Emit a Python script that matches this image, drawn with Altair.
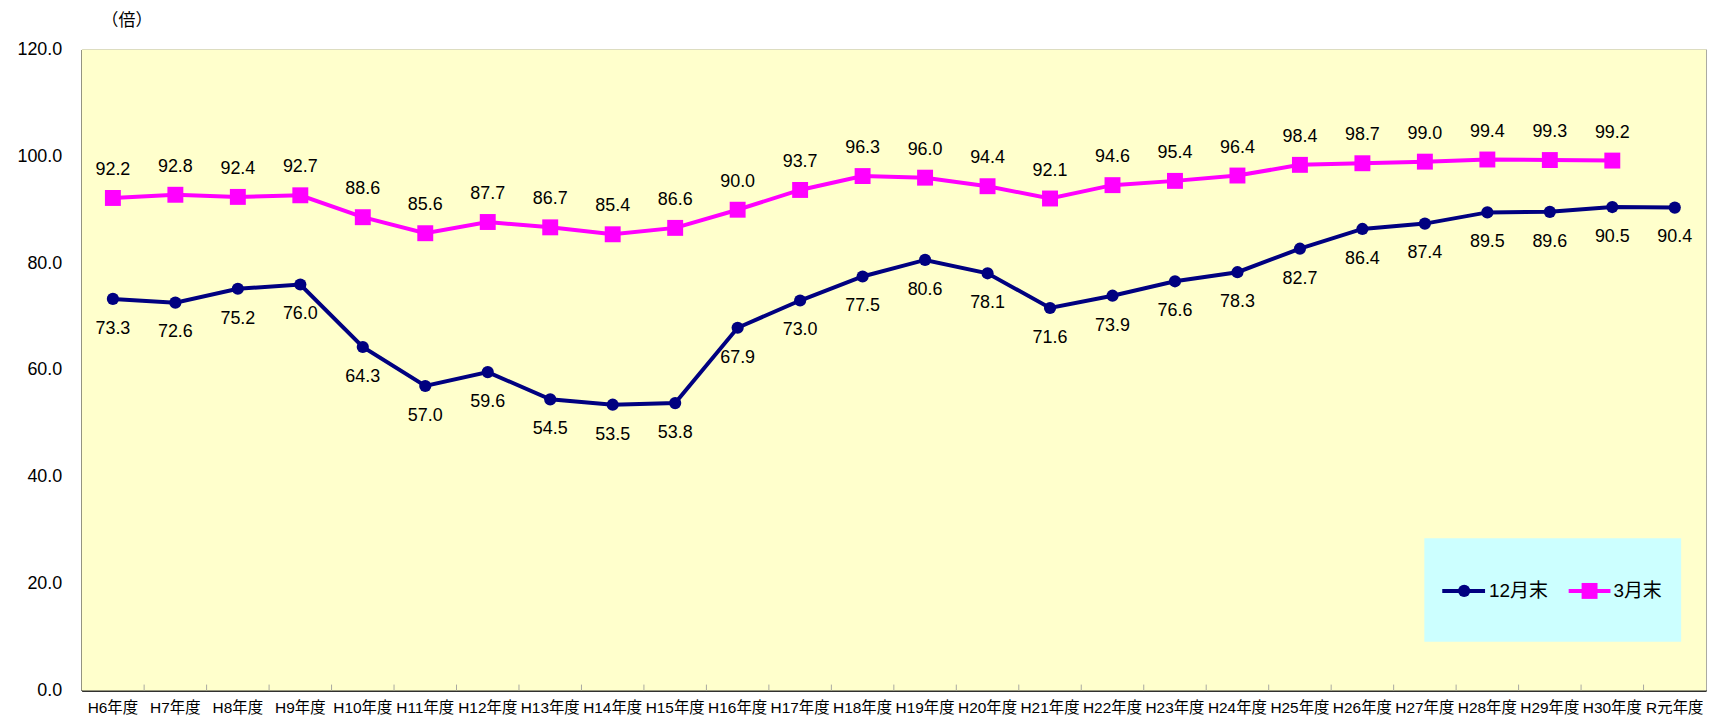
import altair as alt
import pandas as pd

categories = ["H6年度", "H7年度", "H8年度", "H9年度", "H10年度", "H11年度", "H12年度",
              "H13年度", "H14年度", "H15年度", "H16年度", "H17年度", "H18年度", "H19年度",
              "H20年度", "H21年度", "H22年度", "H23年度", "H24年度", "H25年度", "H26年度",
              "H27年度", "H28年度", "H29年度", "H30年度", "R元年度"]
dec_values = [73.3, 72.6, 75.2, 76.0, 64.3, 57.0, 59.6, 54.5, 53.5, 53.8, 67.9, 73.0, 77.5,
              80.6, 78.1, 71.6, 73.9, 76.6, 78.3, 82.7, 86.4, 87.4, 89.5, 89.6, 90.5, 90.4]
mar_values = [92.2, 92.8, 92.4, 92.7, 88.6, 85.6, 87.7, 86.7, 85.4, 86.6, 90.0, 93.7, 96.3,
              96.0, 94.4, 92.1, 94.6, 95.4, 96.4, 98.4, 98.7, 99.0, 99.4, 99.3, 99.2]
series_names = ["12月末", "3月末"]
y_ticks = [0, 20, 40, 60, 80, 100, 120]

FONT = "Liberation Sans, Noto Sans CJK JP"
NAVY = "#000080"
MAGENTA = "#FF00FF"

dec_df = pd.DataFrame({"cat": categories, "value": dec_values})
mar_df = pd.DataFrame({"cat": categories[:len(mar_values)], "value": mar_values})
tick_df = pd.DataFrame({"cat": categories[1:]})

xscale = alt.Scale(type="band", domain=categories, paddingInner=0, paddingOuter=0)
yscale = alt.Scale(domain=[0, 120])

x_axis = alt.Axis(title=None, labelAngle=0, labelFont=FONT, labelFontSize=15.5,
                  labelColor="#000000", labelPadding=10, ticks=False,
                  bandPosition=0.5, labelAlign="center",
                  domainColor="#000000", domainWidth=1.5, labelOverlap=False,
                  grid=False)
x_enc = alt.X("cat:N", scale=xscale, sort=categories, axis=x_axis)
y_enc = alt.Y("value:Q", scale=yscale,
              axis=alt.Axis(values=y_ticks, format=".1f", labelFont=FONT, labelFontSize=18,
                            labelColor="#000000", labelPadding=20, ticks=False,
                            domainColor="#000000", domainWidth=1.5,
                            grid=True, gridColor="#A8A8A0", gridWidth=1,
                            title="（倍）", titleAngle=0, titleFont=FONT, titleFontSize=17,
                            titleFontWeight="normal", titleColor="#000000",
                            titleX=45, titleY=-29, titleAlign="center",
                            titleBaseline="middle"))

bg = alt.Chart(pd.DataFrame({"k": [0]})).mark_rect(color="#FFFFCC").encode(
    x=alt.value(0), x2=alt.value(1632), y=alt.value(0), y2=alt.value(644))

ticks = alt.Chart(tick_df).mark_rule(color="#A8A8A0", strokeWidth=1).encode(
    x=alt.X("cat:N", scale=xscale, sort=categories, bandPosition=0, axis=x_axis),
    y=alt.datum(0, scale=yscale),
    y2=alt.datum(1.1),
)

dec_line = alt.Chart(dec_df).mark_line(color=NAVY, strokeWidth=4).encode(x=x_enc, y=y_enc)
dec_pts = alt.Chart(dec_df).mark_point(shape="circle", filled=True, color=NAVY, size=150,
                                       opacity=1).encode(x=x_enc, y=y_enc)
dec_txt = alt.Chart(dec_df).mark_text(font=FONT, fontSize=18, dy=30, color="#000000",
                                      baseline="middle").encode(
    x=x_enc, y=y_enc, text=alt.Text("value:Q", format=".1f"))

mar_line = alt.Chart(mar_df).mark_line(color=MAGENTA, strokeWidth=4).encode(x=x_enc, y=y_enc)
mar_pts = alt.Chart(mar_df).mark_point(shape="square", filled=True, color=MAGENTA, size=256,
                                       opacity=1).encode(x=x_enc, y=y_enc)
mar_txt = alt.Chart(mar_df).mark_text(font=FONT, fontSize=18, dy=-28, color="#000000",
                                      baseline="middle").encode(
    x=x_enc, y=y_enc, text=alt.Text("value:Q", format=".1f"))

# legend box (decoration)
leg_df = pd.DataFrame({"name": [series_names[0]]})
leg_box = alt.Chart(leg_df).mark_rect(color="#CCFFFF").encode(
    x=alt.value(1349), x2=alt.value(1607), y=alt.value(491), y2=alt.value(595))
leg_l1 = alt.Chart(leg_df).mark_rule(color=NAVY, strokeWidth=4).encode(
    x=alt.value(1367), x2=alt.value(1410), y=alt.value(544))
leg_p1 = alt.Chart(leg_df).mark_point(shape="circle", filled=True, color=NAVY, size=150,
                                      opacity=1).encode(x=alt.value(1389), y=alt.value(544))
leg_t1 = alt.Chart(leg_df).mark_text(font=FONT, fontSize=19, align="left", baseline="middle",
                                     color="#000000").encode(
    x=alt.value(1414), y=alt.value(544), text=alt.value(series_names[0]))
leg_l2 = alt.Chart(leg_df).mark_rule(color=MAGENTA, strokeWidth=4).encode(
    x=alt.value(1494), x2=alt.value(1536), y=alt.value(544))
leg_p2 = alt.Chart(leg_df).mark_point(shape="square", filled=True, color=MAGENTA, size=256,
                                      opacity=1).encode(x=alt.value(1515), y=alt.value(544))
leg_t2 = alt.Chart(leg_df).mark_text(font=FONT, fontSize=19, align="left", baseline="middle",
                                     color="#000000").encode(
    x=alt.value(1539), y=alt.value(544), text=alt.value(series_names[1]))

chart = alt.layer(
    bg, ticks, dec_line, dec_pts, dec_txt, mar_line, mar_pts, mar_txt,
    leg_box, leg_l1, leg_p1, leg_t1, leg_l2, leg_p2, leg_t2
).properties(
    width=1632, height=644,
    autosize=alt.AutoSizeParams(type="none"),
    padding={"left": 74, "top": 40, "right": 4, "bottom": 26},
).configure(
    background="#FFFFFF",
    view=alt.ViewConfig(fill="#FFFFCC", stroke="#A8A8A0", strokeWidth=1),
)

chart.save("out.html", embed_options={"renderer": "svg", "actions": False})
